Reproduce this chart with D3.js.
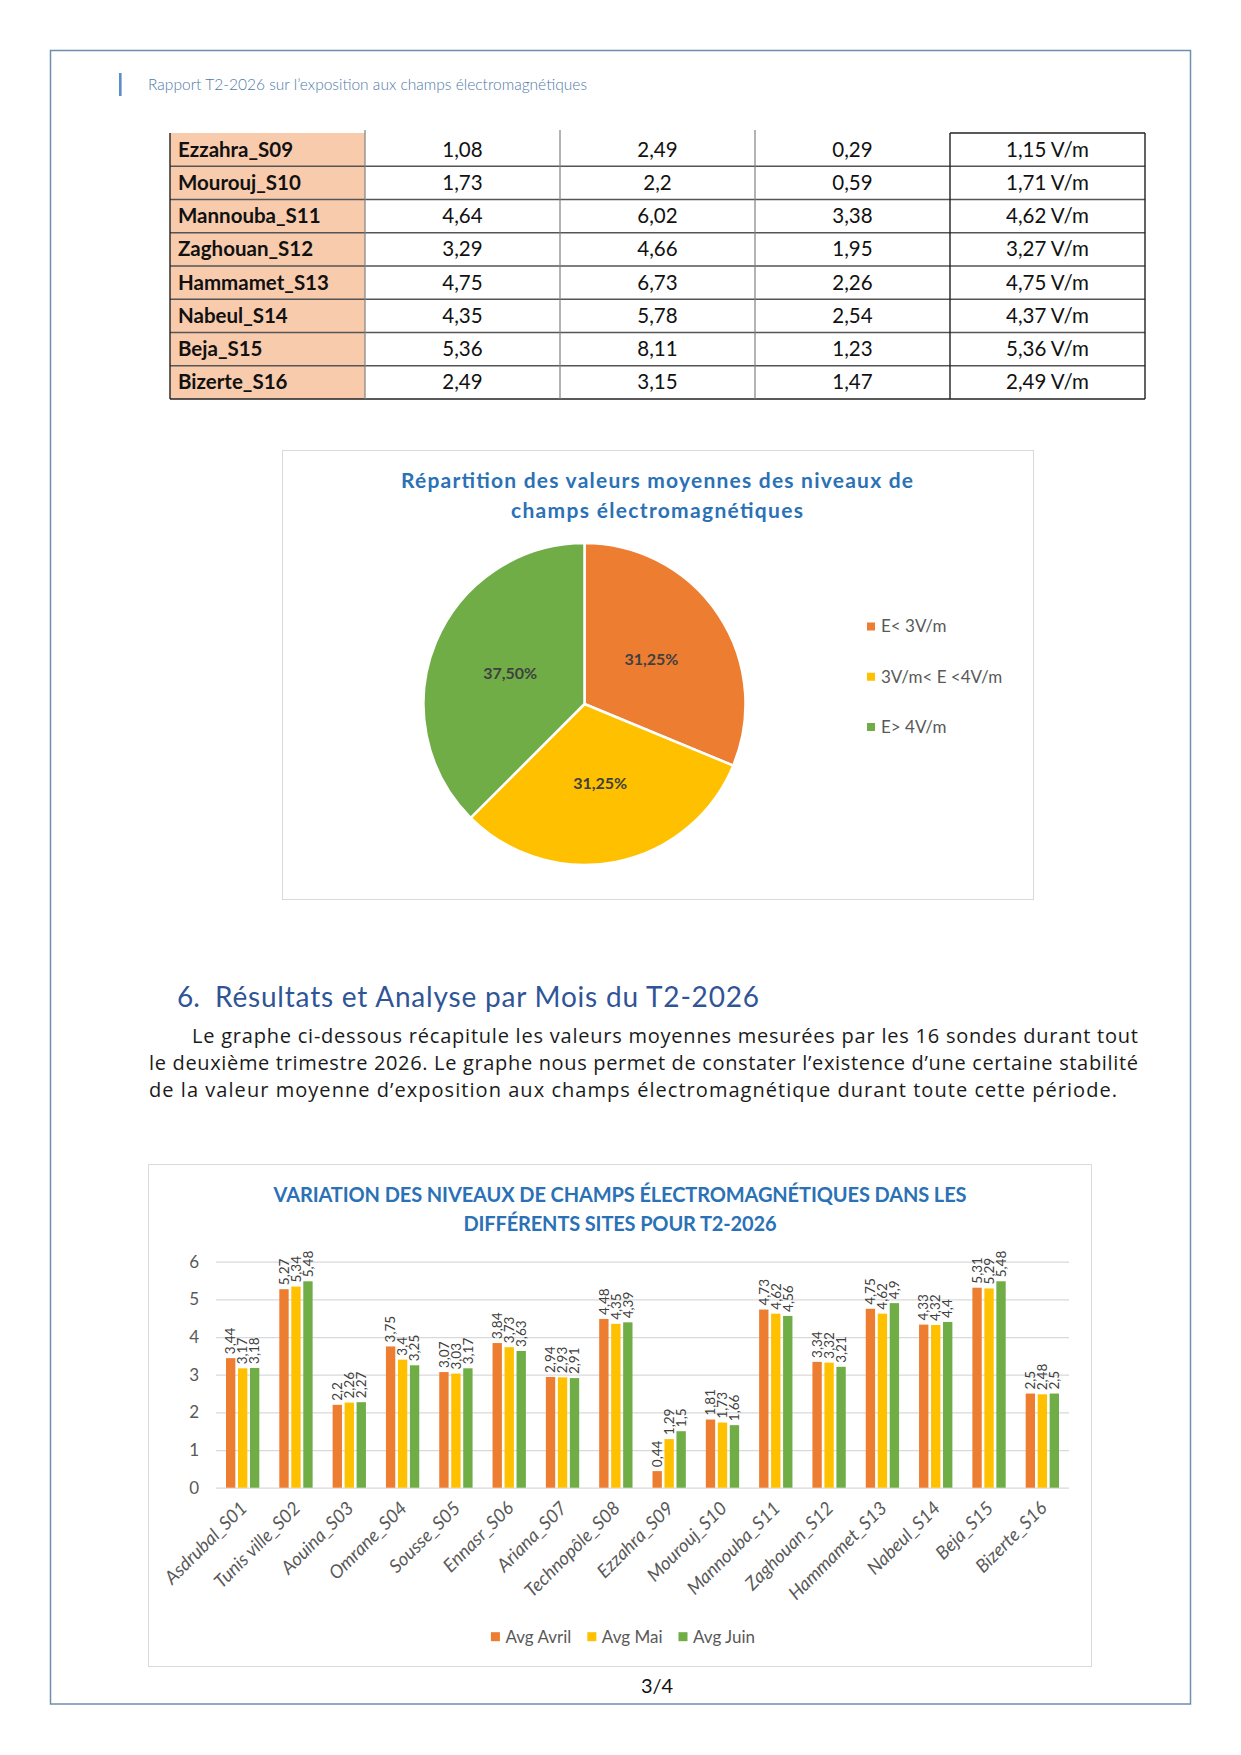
<!DOCTYPE html>
<html>
<head>
<meta charset="utf-8">
<script src="https://cdn.jsdelivr.net/npm/d3@7"></script>
<style>
  body { margin: 0; background: #fff; }
  svg text { font-family: Lato, "Open Sans", sans-serif; }
  .cell { font-size: 20.5px; fill: #111; }
  .site { font-weight: 700; }
  .ctitle { font-size: 21px; font-weight: 700; fill: #2a71b6; }
  .legend { font-size: 17px; fill: #595959; }
  .para { font-family: "Open Sans", sans-serif; font-size: 20px; fill: #1a1a1a; }
  .ytick text { font-size: 17px; fill: #595959; }
  .xlab { font-size: 18.5px; font-style: italic; fill: #595959; }
  .vlab { font-size: 13.5px; fill: #404040; }
</style>
</head>
<body>
<svg id="page" width="1241" height="1755"></svg>
<script>
// table rows (end of the table from the previous page)
const tableSites = ["Ezzahra_S09", "Mourouj_S10", "Mannouba_S11", "Zaghouan_S12",
                    "Hammamet_S13", "Nabeul_S14", "Beja_S15", "Bizerte_S16"];
const tableCol1 = [1.08, 1.73, 4.64, 3.29, 4.75, 4.35, 5.36, 2.49];
const tableCol2 = [2.49, 2.2, 6.02, 4.66, 6.73, 5.78, 8.11, 3.15];
const tableCol3 = [0.29, 0.59, 3.38, 1.95, 2.26, 2.54, 1.23, 1.47];
const tableCol4 = [1.15, 1.71, 4.62, 3.27, 4.75, 4.37, 5.36, 2.49];

// pie
const pieLabels = ["E< 3V/m", "3V/m< E <4V/m", "E> 4V/m"];
const pieValues = [31.25, 31.25, 37.5];
const pieColors = ["#ed7d31", "#ffc000", "#70ad47"];

// bar chart
const sites = ["Asdrubal_S01", "Tunis ville_S02", "Aouina_S03", "Omrane_S04", "Sousse_S05",
               "Ennasr_S06", "Ariana_S07", "Technopôle_S08", "Ezzahra_S09", "Mourouj_S10",
               "Mannouba_S11", "Zaghouan_S12", "Hammamet_S13", "Nabeul_S14", "Beja_S15", "Bizerte_S16"];
const seriesNames = ["Avg Avril", "Avg Mai", "Avg Juin"];
const avgAvril = [3.44, 5.27, 2.2, 3.75, 3.07, 3.84, 2.94, 4.48, 0.44, 1.81, 4.73, 3.34, 4.75, 4.33, 5.31, 2.5];
const avgMai   = [3.17, 5.34, 2.26, 3.4, 3.03, 3.73, 2.93, 4.35, 1.29, 1.73, 4.62, 3.32, 4.62, 4.32, 5.29, 2.48];
const avgJuin  = [3.18, 5.48, 2.27, 3.25, 3.17, 3.63, 2.91, 4.39, 1.5, 1.66, 4.56, 3.21, 4.9, 4.4, 5.48, 2.5];
const yTicks = [0, 1, 2, 3, 4, 5, 6];

const fmt = v => String(v).replace('.', ',');

const svg = d3.select('#page');

// page frame + header
svg.append('rect')
    .attr('x', 50.5).attr('y', 50.5).attr('width', 1140).attr('height', 1653.5)
    .attr('fill', 'none').attr('stroke', '#6d8fae').attr('stroke-width', 1.5);

svg.append('rect')
    .attr('x', 119).attr('y', 73).attr('width', 2.6).attr('height', 23)
    .attr('fill', '#5b8ec9');

svg.append('text')
    .attr('x', 148).attr('y', 90)
    .attr('textLength', 439)
    .style('font-size', '15.5px').style('font-weight', 300).style('fill', '#4f7aa8')
    .text("Rapport T2-2026 sur l’exposition aux champs électromagnétiques");

// ---------- table ----------
const drawTable = () => {
    const cols = [tableSites, tableCol1.map(fmt), tableCol2.map(fmt), tableCol3.map(fmt),
                  tableCol4.map(v => fmt(v) + ' V/m')];
    const tx = d3.scaleBand().domain(d3.range(cols.length)).range([170, 1145]);
    const ty = d3.scaleBand().domain(tableSites).range([133, 399]);
    const g = svg.append('g');

    g.append('rect')
        .attr('x', tx(0)).attr('y', ty.range()[0])
        .attr('width', tx.bandwidth()).attr('height', ty.range()[1] - ty.range()[0])
        .attr('fill', '#f8cbad');

    // row lines
    tableSites.slice(1).forEach(s => {
        g.append('line')
            .attr('x1', 170).attr('x2', 1145).attr('y1', ty(s)).attr('y2', ty(s))
            .attr('stroke', '#555').attr('stroke-width', 1.3);
    });
    g.append('line').attr('x1', 170).attr('x2', 1145).attr('y1', 399).attr('y2', 399)
        .attr('stroke', '#222').attr('stroke-width', 1.6);
    g.append('line').attr('x1', tx(4)).attr('x2', 1145).attr('y1', 133).attr('y2', 133)
        .attr('stroke', '#222').attr('stroke-width', 1.4);

    // column lines
    [1, 2, 3].forEach(i => {
        g.append('line').attr('x1', tx(i)).attr('x2', tx(i)).attr('y1', 130).attr('y2', 399)
            .attr('stroke', '#808080').attr('stroke-width', 1.2);
    });
    [170, tx(4), 1145].forEach(x => {
        g.append('line').attr('x1', x).attr('x2', x).attr('y1', 133).attr('y2', 399)
            .attr('stroke', '#222').attr('stroke-width', 1.4);
    });

    cols.forEach((col, i) => {
        g.selectAll(null)
            .data(col)
            .enter()
            .append('text')
            .attr('class', i === 0 ? 'cell site' : 'cell')
            .attr('x', i === 0 ? tx(0) + 8 : tx(i) + tx.bandwidth() / 2)
            .attr('y', (d, j) => ty(tableSites[j]) + ty.bandwidth() / 2)
            .attr('dy', '0.34em')
            .attr('text-anchor', i === 0 ? 'start' : 'middle')
            .text(d => d);
    });
};

// ---------- pie ----------
const drawPie = () => {
    svg.append('rect')
        .attr('x', 282.5).attr('y', 450.5).attr('width', 751).attr('height', 449)
        .attr('fill', '#fff').attr('stroke', '#d9d9d9');

    svg.append('text').attr('class', 'ctitle')
        .attr('x', 657).attr('y', 488).attr('text-anchor', 'middle').attr('textLength', 512)
        .text('Répartition des valeurs moyennes des niveaux de');
    svg.append('text').attr('class', 'ctitle')
        .attr('x', 657).attr('y', 518).attr('text-anchor', 'middle').attr('textLength', 292)
        .text('champs électromagnétiques');

    const radius = 161;
    const chart = svg.append('g').attr('transform', 'translate(584.5, 704)');
    const arcs = d3.pie().sort(null)(pieValues);
    const arc = d3.arc().innerRadius(0).outerRadius(radius);

    chart.selectAll('path')
        .data(arcs)
        .enter()
        .append('path')
        .attr('d', arc)
        .attr('fill', (d, i) => pieColors[i])
        .attr('stroke', '#fff')
        .attr('stroke-width', 2.5);

    chart.selectAll('.plab')
        .data(arcs)
        .enter()
        .append('text')
        .attr('class', 'plab')
        .attr('transform', d => `translate(${arc.centroid(d)})`)
        .attr('text-anchor', 'middle')
        .attr('dy', '0.35em')
        .style('font-size', '16px').style('font-weight', 700).style('fill', '#404040')
        .text(d => d.value.toFixed(2).replace('.', ',') + '%');

    const legendY = d3.scalePoint().domain(pieLabels).range([626.5, 727]);
    const lg = svg.append('g');
    lg.selectAll('rect')
        .data(pieLabels)
        .enter()
        .append('rect')
        .attr('x', 867).attr('y', d => legendY(d) - 4)
        .attr('width', 8).attr('height', 8)
        .attr('fill', (d, i) => pieColors[i]);
    lg.selectAll('text')
        .data(pieLabels)
        .enter()
        .append('text')
        .attr('class', 'legend')
        .attr('x', 881).attr('y', d => legendY(d))
        .attr('dy', '0.35em')
        .text(d => d);
};

// ---------- section text ----------
const drawText = () => {
    svg.append('text')
        .attr('x', 177).attr('y', 1006.5)
        .style('font-size', '28px').style('fill', '#2f5597')
        .text('6.');
    svg.append('text')
        .attr('x', 215).attr('y', 1006.5).attr('textLength', 544)
        .style('font-size', '28px').style('fill', '#2f5597')
        .text('Résultats et Analyse par Mois du T2-2026');

    const lines = [
        { x: 192, y: 1043, w: 946, t: 'Le graphe ci-dessous récapitule les valeurs moyennes mesurées par les 16 sondes durant tout' },
        { x: 149, y: 1070, w: 989, t: 'le deuxième trimestre 2026. Le graphe nous permet de constater l’existence d’une certaine stabilité' },
        { x: 149, y: 1097, w: 968, t: 'de la valeur moyenne d’exposition aux champs électromagnétique durant toute cette période.' }
    ];
    svg.selectAll('.para')
        .data(lines)
        .enter()
        .append('text')
        .attr('class', 'para')
        .attr('x', d => d.x).attr('y', d => d.y)
        .attr('textLength', d => d.w)
        .attr('lengthAdjust', 'spacing')
        .text(d => d.t);
};

// ---------- grouped bars ----------
const drawBars = () => {
    const series = [avgAvril, avgMai, avgJuin];
    const colors = ["#ed7d31", "#ffc000", "#70ad47"];

    svg.append('rect')
        .attr('x', 148.5).attr('y', 1164.5).attr('width', 943).attr('height', 502)
        .attr('fill', '#fff').attr('stroke', '#d9d9d9');

    svg.append('text').attr('class', 'ctitle')
        .attr('x', 620).attr('y', 1201.5).attr('text-anchor', 'middle').attr('textLength', 693)
        .style('font-size', '20px')
        .text('VARIATION DES NIVEAUX DE CHAMPS ÉLECTROMAGNÉTIQUES DANS LES');
    svg.append('text').attr('class', 'ctitle')
        .attr('x', 620).attr('y', 1230.5).attr('text-anchor', 'middle').attr('textLength', 313)
        .style('font-size', '20px')
        .text('DIFFÉRENTS SITES POUR T2-2026');

    const left = 216, right = 1069, top = 1261.7, bottom = 1487.7;

    const xScale = d3.scaleBand()
        .domain(sites)
        .range([left, right])
        .paddingInner(0.375)
        .paddingOuter(0.1875);

    const xSub = d3.scaleBand()
        .domain(d3.range(series.length))
        .range([0, xScale.bandwidth()])
        .paddingInner(0.22);

    const yScale = d3.scaleLinear()
        .domain([0, 6])
        .range([bottom, top]);

    const yAxis = svg.append('g')
        .attr('class', 'ytick')
        .attr('transform', `translate(${left}, 0)`)
        .call(d3.axisLeft(yScale)
            .tickValues(yTicks)
            .tickSize(-(right - left))
            .tickPadding(17)
            .tickFormat(d3.format('d')));
    yAxis.select('.domain').remove();
    yAxis.selectAll('line').attr('stroke', '#d9d9d9').attr('stroke-width', 1.2);

    const groups = svg.selectAll('.grp')
        .data(sites)
        .enter()
        .append('g')
        .attr('class', 'grp')
        .attr('transform', d => `translate(${xScale(d)}, 0)`);

    series.forEach((vals, k) => {
        groups.append('rect')
            .attr('x', xSub(k))
            .attr('y', (d, i) => yScale(vals[i]))
            .attr('width', xSub.bandwidth())
            .attr('height', (d, i) => bottom - yScale(vals[i]))
            .attr('fill', colors[k]);

        groups.append('text')
            .attr('class', 'vlab')
            .attr('transform', (d, i) =>
                `translate(${xSub(k) + xSub.bandwidth() / 2}, ${yScale(vals[i]) - 4}) rotate(-90)`)
            .attr('dy', '0.35em')
            .text((d, i) => fmt(vals[i]));
    });

    svg.selectAll('.xlab')
        .data(sites)
        .enter()
        .append('text')
        .attr('class', 'xlab')
        .attr('text-anchor', 'end')
        .attr('transform', d =>
            `translate(${xScale(d) + xScale.bandwidth() / 2 + 1}, ${bottom + 17}) rotate(-45)`)
        .attr('dy', '0.35em')
        .text(d => d);

    // legend, laid out left to right and centred
    const lg = svg.append('g');
    let cursor = 0;
    seriesNames.forEach((name, k) => {
        const item = lg.append('g').attr('transform', `translate(${cursor}, 0)`);
        item.append('rect')
            .attr('x', 0).attr('y', -4.5).attr('width', 9).attr('height', 9)
            .attr('fill', colors[k]);
        const t = item.append('text')
            .attr('class', 'legend')
            .attr('x', 14.5).attr('dy', '0.35em')
            .text(name);
        cursor += 14.5 + t.node().getComputedTextLength() + 16;
    });
    const total = cursor - 16;
    lg.attr('transform', `translate(${623 - total / 2}, 1636.7)`);
};

drawTable();
drawPie();
drawText();
drawBars();

svg.append('text')
    .attr('x', 657).attr('y', 1693).attr('text-anchor', 'middle')
    .style('font-size', '20px').style('fill', '#111')
    .text('3/4');
</script>
</body>
</html>
